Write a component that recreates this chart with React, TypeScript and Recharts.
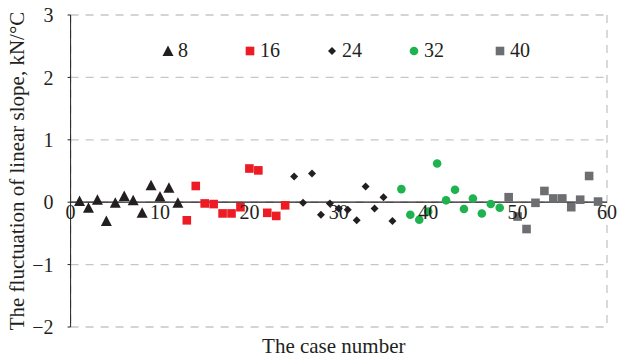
import React from 'react'
import { ScatterChart, Scatter, XAxis, YAxis, CartesianGrid, ReferenceLine, ReferenceDot } from 'recharts'

const groups = ['8', '16', '24', '32', '40']

const cases8 = [1, 2, 3, 4, 5, 6, 7, 8, 9, 10, 11, 12]
const cases16 = [13, 14, 15, 16, 17, 18, 19, 20, 21, 22, 23, 24]
const cases24 = [25, 26, 27, 28, 29, 30, 31, 32, 33, 34, 35, 36]
const cases32 = [37, 38, 39, 40, 41, 42, 43, 44, 45, 46, 47, 48]
const cases40 = [49, 50, 51, 52, 53, 54, 55, 56, 57, 58, 59]

const slope8 = [0.02, -0.09, 0.04, -0.3, -0.01, 0.1, 0.03, -0.17, 0.27, 0.09, 0.23, -0.01]
const slope16 = [-0.29, 0.26, -0.02, -0.03, -0.18, -0.18, -0.08, 0.54, 0.51, -0.17, -0.22, -0.05]
const slope24 = [0.41, -0.01, 0.46, -0.2, -0.02, -0.1, -0.12, -0.29, 0.25, -0.1, 0.08, -0.3]
const slope32 = [0.21, -0.2, -0.28, -0.15, 0.62, 0.03, 0.2, -0.11, 0.06, -0.18, -0.03, -0.09]
const slope40 = [0.08, -0.23, -0.43, -0.01, 0.18, 0.06, 0.06, -0.08, 0.04, 0.42, 0.01]

const xTicks = [0, 10, 20, 30, 40, 50, 60]
const yTicks = [-2, -1, 0, 1, 2, 3]

const toPoints = (xs: number[], ys: number[]) => xs.map((x, i) => ({ x, y: ys[i] }))

const FONT = '"Liberation Serif", "Times New Roman", serif'
const INK = '#231f20'

const Triangle = ({ cx, cy, fill }: any) => (
  <polygon points={`${cx},${cy - 5.5} ${cx - 5.5},${cy + 5} ${cx + 5.5},${cy + 5}`} fill={fill} />
)
const Square = ({ cx, cy, fill }: any) => <rect x={cx - 4.3} y={cy - 4.3} width={8.6} height={8.6} fill={fill} />
const Diamond = ({ cx, cy, fill }: any) => (
  <polygon points={`${cx},${cy - 4} ${cx + 4},${cy} ${cx},${cy + 4} ${cx - 4},${cy}`} fill={fill} />
)
const Circle = ({ cx, cy, fill }: any) => <circle cx={cx} cy={cy} r={4.3} fill={fill} />

const series = [
  { name: groups[0], data: toPoints(cases8, slope8), color: INK, Shape: Triangle },
  { name: groups[1], data: toPoints(cases16, slope16), color: '#ed1c24', Shape: Square },
  { name: groups[2], data: toPoints(cases24, slope24), color: INK, Shape: Diamond },
  { name: groups[3], data: toPoints(cases32, slope32), color: '#1fb34f', Shape: Circle },
  { name: groups[4], data: toPoints(cases40, slope40), color: '#6d6e71', Shape: Square },
]

const itemWidths = [82, 82, 82, 86, 60]

// real minus sign like the original
const fmtY = (v: number) => (v < 0 ? `\u2212${Math.abs(v)}` : `${v}`)

function LegendBox() {
  return (
    <div style={{ position: 'absolute', left: 162, top: 39, display: 'flex', fontFamily: FONT, fontSize: 20, color: INK }}>
      {series.map((s, i) => (
        <div key={s.name} style={{ width: itemWidths[i], display: 'flex', alignItems: 'center' }}>
          <svg width={12} height={12} style={{ marginRight: 4 }}>
            <s.Shape cx={6} cy={6} fill={s.color} />
          </svg>
          <span>{s.name}</span>
        </div>
      ))}
    </div>
  )
}

export default function App() {
  return (
    <div style={{ position: 'absolute', top: 0, left: 0, width: 617, height: 360, fontFamily: FONT }}>
      <ScatterChart
        width={617}
        height={360}
        margin={{ top: 15, right: 10, bottom: 0, left: 0 }}
        style={{ fontFamily: FONT }}
      >
        <CartesianGrid stroke="#c6c6c6" strokeWidth={1.3} strokeDasharray="8 7" />
        <XAxis
          type="number"
          dataKey="x"
          domain={[0, 60]}
          ticks={xTicks}
          tick={false}
          tickLine={false}
          axisLine={false}
          height={33}
          label={{ value: 'The case number', position: 'insideBottom', offset: 7, dx: -5, fill: INK, fontSize: 21, fontFamily: FONT }}
        />
        <YAxis
          type="number"
          dataKey="y"
          domain={[-2, 3]}
          ticks={yTicks}
          width={70.6}
          tickSize={3}
          tickMargin={14}
          stroke={INK}
          tickFormatter={fmtY}
          tick={{ fill: INK, fontSize: 20, fontFamily: FONT }}
          label={{
            value: 'The fluctuation of linear slope, kN/°C',
            angle: -90,
            position: 'insideLeft',
            offset: 17,
            fill: INK,
            fontSize: 21,
            fontFamily: FONT,
            style: { textAnchor: 'middle', fontFamily: FONT },
          }}
        />
        <ReferenceLine y={0} stroke={INK} strokeWidth={1.2} />
        {series.map((s) => (
          <Scatter
            key={s.name}
            name={s.name}
            data={s.data}
            fill={s.color}
            isAnimationActive={false}
            shape={(p: any) => <s.Shape cx={p.cx} cy={p.cy} fill={s.color} />}
          />
        ))}
        {xTicks.map((t) => (
          <ReferenceDot
            key={t}
            x={t}
            y={0}
            r={0}
            stroke="none"
            fill="none"
            label={{ value: t, position: 'bottom', offset: 3, fill: INK, fontSize: 20, fontFamily: FONT }}
          />
        ))}
      </ScatterChart>
      <LegendBox />
    </div>
  )
}
